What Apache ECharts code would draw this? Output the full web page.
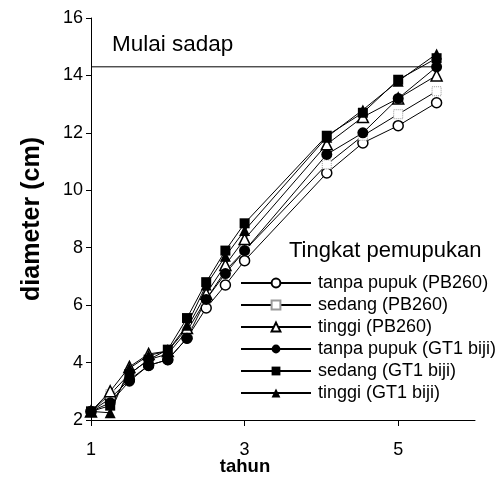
<!DOCTYPE html>
<html>
<head>
<meta charset="utf-8">
<script src="https://cdn.jsdelivr.net/npm/echarts@6/dist/echarts.min.js"></script>
<style>html,body{margin:0;padding:0;background:#fff}#c{width:501px;height:481px}</style>
</head>
<body>
<div id="c"></div>
<script>
var years = [1, 1.25, 1.5, 1.75, 2, 2.25, 2.5, 2.75, 3, 4.07, 4.54, 5, 5.5];
var seriesNames = ['tanpa pupuk (PB260)', 'sedang (PB260)', 'tinggi (PB260)', 'tanpa pupuk (GT1 biji)', 'sedang (GT1 biji)', 'tinggi (GT1 biji)'];
var tanpaPB260 = [2.3, 2.75, 3.4, 3.9, 4.1, 4.85, 5.9, 6.7, 7.55, 10.6, 11.65, 12.25, 13.05];
var sedangPB260 = [2.3, 2.9, 3.6, 4.1, 4.3, 5.1, 6.2, 7.2, 7.9, 10.9, 11.9, 12.65, 13.45];
var tinggiPB260 = [2.3, 3.0, 3.85, 4.3, 4.4, 5.2, 6.4, 7.4, 8.3, 11.6, 12.55, 13.2, 14.0];
var tanpaGT1 = [2.3, 2.6, 3.35, 3.9, 4.1, 4.85, 6.2, 7.1, 7.9, 11.25, 12.0, 13.2, 14.3];
var sedangGT1 = [2.3, 2.5, 3.6, 4.1, 4.45, 5.55, 6.8, 7.9, 8.85, 11.9, 12.7, 13.85, 14.6];
var tinggiGT1 = [2.3, 2.25, 3.8, 4.25, 4.4, 5.3, 6.7, 7.7, 8.6, 11.85, 12.8, 13.8, 14.75];
var sadapX = [1, 5.5];
var sadapY = [14.3, 14.3];
var xTicks = [1, 3, 5];

var font = '"Liberation Sans", Arial, sans-serif';
function pairs(xs, ys) { return xs.map(function (x, i) { return [x, ys[i]]; }); }

var styles = [
  { symbol: 'circle', size: 10, fill: '#fff', border: '#000', bw: 1.5 },
  { symbol: 'rect', size: 9, fill: '#fff', border: '#999', bw: 1, btype: 'dotted' },
  { symbol: 'triangle', size: 11, fill: '#fff', border: '#000', bw: 1.5 },
  { symbol: 'circle', size: 11, fill: '#000', border: '#000', bw: 0 },
  { symbol: 'rect', size: 10, fill: '#000', border: '#000', bw: 0 },
  { symbol: 'triangle', size: 11, fill: '#000', border: '#000', bw: 0 }
];
var values = [tanpaPB260, sedangPB260, tinggiPB260, tanpaGT1, sedangGT1, tinggiGT1];

var series = values.map(function (v, i) {
  var s = styles[i];
  return {
    name: seriesNames[i],
    type: 'line',
    data: pairs(years, v),
    symbol: s.symbol,
    symbolSize: s.size,
    showAllSymbol: true,
    lineStyle: { color: '#000', width: 1 },
    itemStyle: { color: s.fill, borderColor: s.border, borderWidth: s.bw, borderType: s.btype || 'solid' },
    z: 3
  };
});
series.push({
  name: 'sadap',
  type: 'line',
  data: pairs(sadapX, sadapY),
  symbol: 'none',
  lineStyle: { color: '#000', width: 1 },
  z: 2,
  silent: true
});

var chart = echarts.init(document.getElementById('c'));
chart.setOption({
  animation: false,
  backgroundColor: '#fff',
  grid: { left: 91, right: 26, top: 18, bottom: 61 },
  xAxis: {
    type: 'value', min: 1, max: 6,
    axisLine: { show: true, lineStyle: { color: '#000', width: 1 } },
    axisTick: { show: true, length: 6, lineStyle: { color: '#000' }, customValues: xTicks },
    axisLabel: { color: '#000', fontSize: 18, fontFamily: font, margin: 21, customValues: xTicks },
    splitLine: { show: false }
  },
  yAxis: {
    type: 'value', min: 2, max: 16, interval: 2,
    name: 'diameter (cm)', nameLocation: 'middle', nameGap: 46,
    nameTextStyle: { color: '#000', fontSize: 25, fontWeight: 'bold', fontFamily: font },
    axisLine: { show: true, lineStyle: { color: '#000', width: 1 } },
    axisTick: { show: true, length: 5, lineStyle: { color: '#000' } },
    axisLabel: { color: '#000', fontSize: 18, fontFamily: font, margin: 8 },
    splitLine: { show: false }
  },
  legend: {
    data: seriesNames,
    orient: 'vertical',
    left: 240, top: 274, padding: 0,
    itemWidth: 70, itemHeight: 11, itemGap: 4,
    textStyle: { color: '#000', fontSize: 18, fontFamily: font, padding: [0, 0, 0, 2] }
  },
  graphic: [
    { type: 'text', x: 112, y: 45, style: { text: 'Mulai sadap', fontSize: 22.5, fontFamily: font, fill: '#000', verticalAlign: 'middle' } },
    { type: 'text', x: 289, y: 251, style: { text: 'Tingkat pemupukan', fontSize: 22, fontFamily: font, fill: '#000', verticalAlign: 'middle' } },
    { type: 'text', x: 245, y: 467, style: { text: 'tahun', fontSize: 18.5, fontWeight: 'bold', fontFamily: font, fill: '#000', align: 'center', verticalAlign: 'middle' } }
  ],
  series: series
});
</script>
</body>
</html>
